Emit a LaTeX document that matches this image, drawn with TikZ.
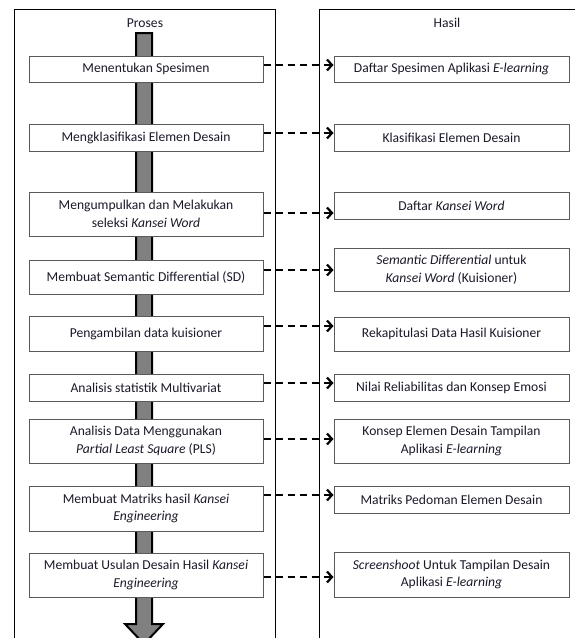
\documentclass[tikz,border=0pt]{standalone}
\usepackage{fontspec}
\setmainfont{Carlito}
\usetikzlibrary{arrows.meta}
\definecolor{boxgray}{HTML}{5A5A5A}
\definecolor{spinegray}{HTML}{808080}
\definecolor{txt}{HTML}{1A1A2A}
\tikzset{
  pbox/.style={draw=boxgray, line width=1pt, fill=white, align=center, text=txt,
    font=\fontsize{13.6}{17.6}\selectfont, inner sep=0pt},
  lbox/.style={pbox, minimum width=234pt},
  rbox/.style={pbox, minimum width=235pt},
  darr/.style={line width=1.6pt, dash pattern=on 7pt off 5pt,
    -{Straight Barb[length=5pt,width=11pt,line width=2.2pt]}},
  frame/.style={line width=1pt, draw=black},
  head/.style={font=\fontsize{13.6}{16}\selectfont, text=txt}
}
\begin{document}
\begin{tikzpicture}[x=1pt,y=-1pt]
\useasboundingbox (0,0) rectangle (575,638);
\begin{scope}
\clip (0,0) rectangle (575,638);
% panels
\draw[frame] (14,640) -- (14,9) -- (275,9) -- (275,640);
\draw[frame] (319,640) -- (319,9) -- (580,9);
\node[head] (hp) at (145,23) {Proses};
\node[head] (hh) at (447,23) {Hasil};
% spine arrow
\draw[line width=2pt, fill=spinegray, line join=miter]
  (136,33) -- (152,33) -- (152,624) -- (163,624) -- (144,644) -- (125,624) -- (136,624) -- cycle;
\end{scope}
% left boxes
\node[lbox, minimum height=26pt] (l1) at (146,69) {Menentukan Spesimen};
\node[lbox, minimum height=27pt] (l2) at (146,137.5) {Mengklasifikasi Elemen Desain};
\node[lbox, minimum height=44pt] (l3) at (146,214) {Mengumpulkan dan Melakukan\\seleksi \textit{Kansei Word}};
\node[lbox, minimum height=34pt] (l4) at (146,277) {Membuat Semantic Differential (SD)};
\node[lbox, minimum height=35pt] (l5) at (146,333.5) {Pengambilan data kuisioner};
\node[lbox, minimum height=27pt] (l6) at (146,387.5) {Analisis statistik Multivariat};
\node[lbox, minimum height=44pt] (l7) at (146,441) {Analisis Data Menggunakan\\\textit{Partial Least Square} (PLS)};
\node[lbox, minimum height=45pt] (l8) at (146,508.5) {Membuat Matriks hasil \textit{Kansei}\\\textit{Engineering}};
\node[lbox, minimum height=44pt] (l9) at (146,575) {Membuat Usulan Desain Hasil \textit{Kansei}\\\textit{Engineering}};
% right boxes
\node[rbox, minimum height=26pt] (r1) at (451.5,69) {Daftar Spesimen Aplikasi \textit{E-learning}};
\node[rbox, minimum height=27pt] (r2) at (451.5,137.5) {Klasifikasi Elemen Desain};
\node[rbox, minimum height=27pt] (r3) at (451.5,205.5) {Daftar \textit{Kansei Word}};
\node[rbox, minimum height=43pt] (r4) at (451.5,269.5) {\textit{Semantic Differential} untuk\\\textit{Kansei Word} (Kuisioner)};
\node[rbox, minimum height=34pt] (r5) at (451.5,334) {Rekapitulasi Data Hasil Kuisioner};
\node[rbox, minimum height=27pt] (r6) at (451.5,387.5) {Nilai Reliabilitas dan Konsep Emosi};
\node[rbox, minimum height=44pt] (r7) at (451.5,441) {Konsep Elemen Desain Tampilan\\Aplikasi \textit{E-learning}};
\node[rbox, minimum height=27pt] (r8) at (451.5,499.5) {Matriks Pedoman Elemen Desain};
\node[rbox, minimum height=45pt] (r9) at (451.5,574.5) {\textit{Screenshoot} Untuk Tampilan Desain\\Aplikasi \textit{E-learning}};
% arrow levels
\coordinate (a1) at (300,65);
\coordinate (a2) at (300,133);
\coordinate (a3) at (300,213);
\coordinate (a4) at (300,270);
\coordinate (a5) at (300,326);
\coordinate (a6) at (300,383);
\coordinate (a7) at (300,439);
\coordinate (a8) at (300,495);
\coordinate (a9) at (300,577);
\foreach \i in {1,...,9}{
  \draw[darr] (l\i.east |- a\i) -- (r\i.west |- a\i);
}
\end{tikzpicture}
\end{document}
